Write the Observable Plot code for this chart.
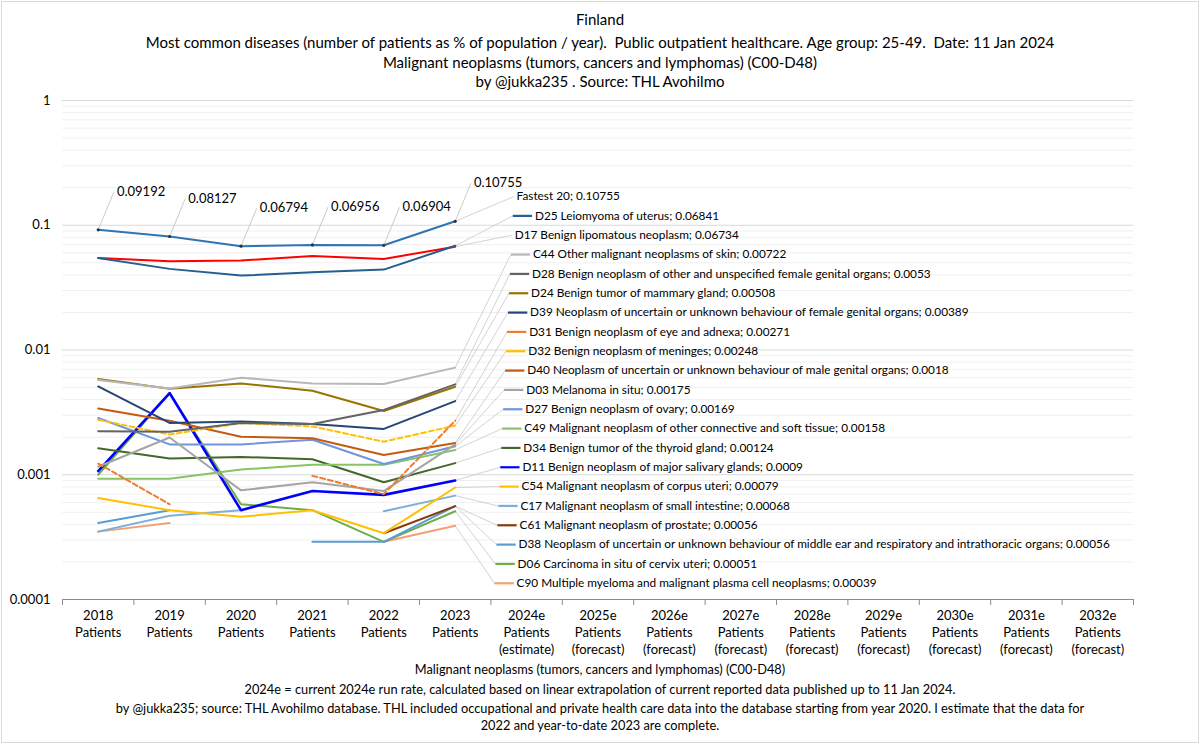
<!DOCTYPE html>
<html><head><meta charset="utf-8">
<script src="https://cdn.jsdelivr.net/npm/d3@7"></script>
<script src="https://cdn.jsdelivr.net/npm/@observablehq/plot@0.6"></script>
<style>
body{margin:0;background:#fff;font-family:Lato,"Open Sans",sans-serif;}
#wrap{position:relative;width:1200px;height:744px;overflow:hidden;background:#fff;}
#frame{position:absolute;left:1px;top:1px;width:1196px;height:740px;border:1px solid #D9D9D9;}
.t{position:absolute;left:0;width:1200px;text-align:center;color:#000;white-space:nowrap;line-height:18px;}
.tt{font-size:15px;}
.cp{font-size:12.8px;}
#chart{position:absolute;left:0;top:90px;}
</style></head><body>
<div id="wrap">
<div id="frame"></div>
<div class="t tt" style="top:10px">Finland</div>
<div class="t tt" style="top:33px">Most common diseases (number of patients as % of population / year).&nbsp; Public outpatient healthcare. Age group: 25-49.&nbsp; Date: 11 Jan 2024</div>
<div class="t tt" style="top:53px">Malignant neoplasms (tumors, cancers and lymphomas) (C00-D48)</div>
<div class="t tt" style="top:72px">by @jukka235 . Source: THL Avohilmo</div>
<div id="chart"></div>
<div class="t cp" style="top:660px">Malignant neoplasms (tumors, cancers and lymphomas) (C00-D48)</div>
<div class="t cp" style="top:680px">2024e = current 2024e run rate, calculated based on linear extrapolation of current reported data published up to 11 Jan 2024.</div>
<div class="t cp" style="top:699px">by @jukka235; source: THL Avohilmo database. THL included occupational and private health care data into the database starting from year 2020. I estimate that the data for</div>
<div class="t cp" style="top:716px">2022 and year-to-date 2023 are complete.</div>
</div>
<script>
// ---------- data ----------
const categories = [
  "2018\nPatients","2019\nPatients","2020\nPatients","2021\nPatients","2022\nPatients","2023\nPatients",
  "2024e\nPatients\n(estimate)","2025e\nPatients\n(forecast)","2026e\nPatients\n(forecast)","2027e\nPatients\n(forecast)",
  "2028e\nPatients\n(forecast)","2029e\nPatients\n(forecast)","2030e\nPatients\n(forecast)","2031e\nPatients\n(forecast)","2032e\nPatients\n(forecast)"
];
const yTickValues = [1, 0.1, 0.01, 0.001, 0.0001];
const yTickLabels = ["1", "0.1", "0.01", "0.001", "0.0001"];

const seriesNames = [
  "Fastest 20",
  "D25 Leiomyoma of uterus",
  "D17 Benign lipomatous neoplasm",
  "C44 Other malignant neoplasms of skin",
  "D28 Benign neoplasm of other and unspecified female genital organs",
  "D24 Benign tumor of mammary gland",
  "D39 Neoplasm of uncertain or unknown behaviour of female genital organs",
  "D31 Benign neoplasm of eye and adnexa",
  "D32 Benign neoplasm of meninges",
  "D40 Neoplasm of uncertain or unknown behaviour of male genital organs",
  "D03 Melanoma in situ",
  "D27 Benign neoplasm of ovary",
  "C49 Malignant neoplasm of other connective and soft tissue",
  "D34 Benign tumor of the thyroid gland",
  "D11 Benign neoplasm of major salivary glands",
  "C54 Malignant neoplasm of corpus uteri",
  "C17 Malignant neoplasm of small intestine",
  "C61 Malignant neoplasm of prostate",
  "D38 Neoplasm of uncertain or unknown behaviour of middle ear and respiratory and intrathoracic organs",
  "D06 Carcinoma in situ of cervix uteri",
  "C90 Multiple myeloma and malignant plasma cell neoplasms"
];
// values 2018..2023 (% of population)
const fastest20 = [0.09192, 0.08127, 0.06794, 0.06956, 0.06904, 0.10755];
const d25 = [0.0547, 0.0447, 0.0395, 0.0420, 0.0441, 0.06841];
const d17 = [0.0547, 0.0514, 0.0521, 0.0568, 0.0537, 0.06734];
const c44 = [0.00574, 0.00492, 0.0060, 0.0054, 0.00533, 0.00722];
const d28 = [0.00223, 0.00221, 0.0026, 0.00255, 0.00331, 0.0053];
const d24 = [0.00585, 0.00489, 0.0054, 0.00471, 0.00324, 0.00508];
const d39 = [0.0051, 0.0026, 0.00267, 0.00255, 0.00233, 0.00389];
const d31 = [0.00123, 0.00058, null, 0.00098, 0.0007, 0.00271];
const d32 = [0.00276, 0.0021, 0.0026, 0.00244, 0.00184, 0.00248];
const d40 = [0.0034, 0.00271, 0.00202, 0.00196, 0.00144, 0.0018];
const d03 = [0.00116, 0.00199, 0.00075, 0.00087, 0.00074, 0.00175];
const d27 = [0.00285, 0.00175, 0.00175, 0.00191, 0.00122, 0.00169];
const c49 = [0.00093, 0.00093, 0.0011, 0.0012, 0.0012, 0.00158];
const d34 = [0.00163, 0.00135, 0.00139, 0.00133, 0.00087, 0.00124];
const d11 = [0.00107, 0.00452, 0.00052, 0.00074, 0.00069, 0.0009];
const c54 = [0.00065, 0.00052, 0.00046, 0.00052, 0.00034, 0.00079];
const c17 = [0.00035, 0.00047, 0.00052, null, 0.00051, 0.00068];
const c61 = [null, null, null, null, 0.00034, 0.00056];
const d38 = [0.00041, 0.00052, null, 0.00029, 0.00029, 0.00056];
const d06 = [0.0010, 0.0045, 0.00058, 0.00052, 0.00029, 0.00051];
const c90 = [0.00035, 0.00041, null, null, 0.00029, 0.00039];
const seriesValues = [fastest20, d25, d17, c44, d28, d24, d39, d31, d32, d40, d03, d27, c49, d34, d11, c54, c17, c61, d38, d06, c90];

// ---------- styles ----------
const seriesColors = ["#2E75B6","#255E91","#FF0000","#B8B8B8","#636363","#997300","#264478","#ED7D31","#FFC000","#C55A11",
  "#A5A5A5","#6F96DC","#86C464","#43682B","#0000FF","#FFC000","#7CAFDD","#843C0C","#5B9BD5","#70AD47","#F4A074"];
const seriesDash = seriesNames.map((d,i) => (i===7 || i===8) ? "5,3" : null);
const seriesWidth = seriesNames.map((d,i) => i===14 ? 2.6 : 2);
const noSwatch = [0, 2];

// ---------- layout ----------
const W = 1200, H = 570, mT = 10, mB = 61, mL = 62, mR = 67;
const plotH = H - mT - mB;
const decadePx = plotH / 4;
const labelTopLog = -0.77, labelBottomLog = -3.87;
const labelXTop = 6.32, labelXBottom = 6.05, swatchLen = 0.27, textGap = 0.04;

const rows = [];
seriesValues.forEach((vals, s) => vals.forEach((v, i) => rows.push({s, i, x: i + 0.5, v})));
const last = seriesValues.map(v => v[v.length - 1]);
const n = seriesNames.length;
const labels = seriesNames.map((name, s) => {
  const t = s / (n - 1);
  const lx = labelXTop + t * (labelXBottom - labelXTop);
  return {
    s, name,
    text: `${name}; ${last[s]}`,
    ly: Math.pow(10, labelTopLog + t * (labelBottomLog - labelTopLog)),
    lx, sx: lx + swatchLen, tx: lx + swatchLen + textGap,
    v: last[s]
  };
});

const minor = [];
for (let k = -4; k < 0; k++) for (let m = 2; m <= 9; m++) minor.push(m * Math.pow(10, k));

const upF = Math.pow(10, 38 / decadePx);
const fastRows = fastest20.map((v, i) => ({x: i + 0.5, v, lx: i + 0.5 + 0.22, ly: v * upF}));

const marks = [
  Plot.ruleY(minor, {stroke: "#F0F0F0", strokeWidth: 1}),
  Plot.ruleY([0.001, 0.01, 0.1, 1], {stroke: "#D9D9D9", strokeWidth: 1}),
  Plot.ruleY([0.0001], {stroke: "#8C8C8C", strokeWidth: 1}),
  Plot.ruleX(d3.range(16), {x: d => d, y1: 0.0001, y2: 0.0001 / Math.pow(10, 6 / decadePx), stroke: "#8C8C8C"}),
  Plot.text(yTickValues, {x: 0, y: d => d, text: (d, i) => yTickLabels[i], textAnchor: "end", dx: -12, fontSize: 13, fill: "#000"}),
  Plot.text(categories, {x: (d, i) => i + 0.5, text: d => d, frameAnchor: "bottom", dy: 9, lineAnchor: "top", fontSize: 13, lineHeight: 1.28, fill: "#000"}),
  // leader lines to right-hand labels
  Plot.link(labels, {x1: 5.5, y1: "v", x2: "lx", y2: "ly", stroke: "#C8C8C8", strokeWidth: 0.8}),
];
// series lines, drawn bottom-up
for (let s = n - 1; s >= 0; s--) {
  marks.push(Plot.line(rows.filter(r => r.s === s), {
    x: "x", y: "v", stroke: seriesColors[s], strokeWidth: seriesWidth[s],
    strokeDasharray: seriesDash[s], curve: "linear"
  }));
}
marks.push(
  Plot.link(fastRows, {x1: "x", y1: "v", x2: "lx", y2: "ly", stroke: "#BDBDBD", strokeWidth: 0.8}),
  Plot.dot(fastRows, {x: "x", y: "v", r: 1.6, fill: "#333", stroke: null}),
  Plot.text(fastRows, {x: "lx", y: "ly", text: d => String(d.v), textAnchor: "start", dx: 3, fontSize: 13, fill: "#000"}),
  Plot.link(labels.filter(d => !noSwatch.includes(d.s)), {x1: "lx", y1: "ly", x2: "sx", y2: "ly", stroke: d => seriesColors[d.s], strokeWidth: 2.2}),
  Plot.text(labels, {x: d => noSwatch.includes(d.s) ? d.lx + textGap : d.tx, y: "ly", text: "text", textAnchor: "start", fontSize: 11.8, fill: "#000"})
);

const chart = Plot.plot({
  width: W, height: H, marginTop: mT, marginBottom: mB, marginLeft: mL, marginRight: mR,
  style: {fontFamily: "Lato, 'Open Sans', sans-serif", background: "transparent", overflow: "visible"},
  x: {domain: [0, 15], axis: null},
  y: {type: "log", domain: [0.0001, 1], axis: null},
  marks
});
document.getElementById("chart").appendChild(chart);
</script>
</body></html>
